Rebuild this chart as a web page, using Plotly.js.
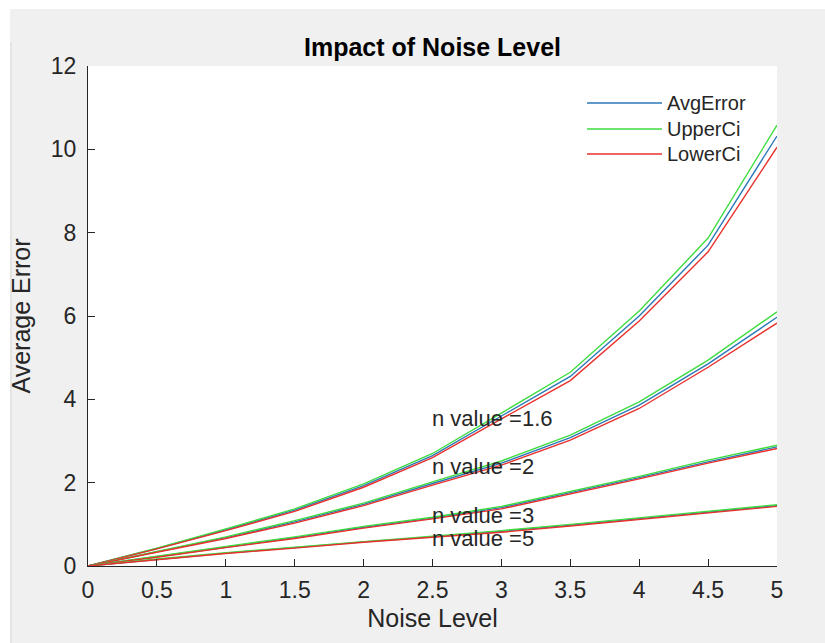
<!DOCTYPE html>
<html>
<head>
<meta charset="utf-8">
<script src="https://cdn.plot.ly/plotly-3.0.1.min.js"></script>
<style>
  html, body { margin: 0; padding: 0; background: #f0f0f0; }
  #chart { width: 825px; height: 643px; }
</style>
</head>
<body>
<div id="chart"></div>
<script>
// Noise levels swept in the experiment
const noiseLevel = [0, 0.5, 1, 1.5, 2, 2.5, 3, 3.5, 4, 4.5, 5];

// n = 1.6
const avg16   = [0, 0.42, 0.87, 1.34, 1.93, 2.65, 3.60, 4.55, 6.00, 7.70, 10.32];
const upper16 = [0, 0.43, 0.89, 1.37, 1.97, 2.70, 3.67, 4.65, 6.12, 7.87, 10.58];
const lower16 = [0, 0.41, 0.85, 1.31, 1.89, 2.60, 3.53, 4.45, 5.88, 7.54, 10.05];

// n = 2
const avg2   = [0, 0.34, 0.68, 1.06, 1.48, 1.98, 2.47, 3.08, 3.86, 4.85, 5.97];
const upper2 = [0, 0.35, 0.70, 1.09, 1.51, 2.02, 2.52, 3.14, 3.94, 4.94, 6.10];
const lower2 = [0, 0.33, 0.66, 1.03, 1.45, 1.94, 2.42, 3.02, 3.78, 4.77, 5.83];

// n = 3
const avg3   = [0, 0.22, 0.45, 0.68, 0.93, 1.15, 1.40, 1.76, 2.12, 2.50, 2.86];
const upper3 = [0, 0.23, 0.46, 0.70, 0.95, 1.17, 1.43, 1.79, 2.15, 2.54, 2.90];
const lower3 = [0, 0.21, 0.44, 0.66, 0.91, 1.13, 1.37, 1.73, 2.09, 2.47, 2.82];

// n = 5
const avg5   = [0, 0.16, 0.31, 0.44, 0.58, 0.70, 0.83, 0.98, 1.14, 1.30, 1.45];
const upper5 = [0, 0.17, 0.32, 0.45, 0.59, 0.71, 0.85, 1.00, 1.16, 1.32, 1.47];
const lower5 = [0, 0.15, 0.30, 0.43, 0.57, 0.69, 0.81, 0.96, 1.12, 1.28, 1.43];

// Labels placed next to each family of curves
const nLabels = ['n value =1.6', 'n value =2', 'n value =3', 'n value =5'];
const nLabelY = [3.55, 2.38, 1.22, 0.65];
const nLabelX = 2.5;

const seriesNames = ['AvgError', 'UpperCi', 'LowerCi'];

const COLORS = { avg: '#2b78b8', upper: '#3fdc3f', lower: '#e8302c' };
const INK = '#262626';
const FONT = 'Liberation Sans, Arial, Helvetica, sans-serif';

const groups = [
  [avg16, upper16, lower16],
  [avg2, upper2, lower2],
  [avg3, upper3, lower3],
  [avg5, upper5, lower5]
];

const traces = [];
groups.forEach(function (g) {
  const cols = [COLORS.avg, COLORS.upper, COLORS.lower];
  g.forEach(function (ys, k) {
    traces.push({
      x: noiseLevel,
      y: ys,
      type: 'scatter',
      mode: 'lines',
      name: seriesNames[k],
      showlegend: false,
      line: { color: cols[k], width: 1.4 },
      hoverinfo: 'x+y'
    });
  });
});

// Curve labels
const annotations = nLabels.map(function (t, i) {
  return {
    x: nLabelX, y: nLabelY[i], xref: 'x', yref: 'y',
    text: t, showarrow: false, xanchor: 'left', yanchor: 'middle',
    xshift: -3,
    font: { family: FONT, size: 22, color: INK }
  };
});

// Legend box in the upper right of the axes (paper coordinates)
const legColors = [COLORS.avg, COLORS.upper, COLORS.lower];
const legRowsPx = [103, 129, 154];
const pxToPaperX = function (px) { return (px - 88) / 689; };
const pxToPaperY = function (py) { return (566 - py) / 500; };
const shapes = [];
seriesNames.forEach(function (nm, i) {
  const yy = pxToPaperY(legRowsPx[i]);
  shapes.push({
    type: 'line', xref: 'paper', yref: 'paper',
    x0: pxToPaperX(587), x1: pxToPaperX(662), y0: yy, y1: yy,
    line: { color: legColors[i], width: 1.4 }
  });
  annotations.push({
    x: pxToPaperX(665), y: yy, xref: 'paper', yref: 'paper',
    text: nm, showarrow: false, xanchor: 'left', yanchor: 'middle',
    font: { family: FONT, size: 20, color: INK }
  });
});

// Figure frame strips along the top and left edges
shapes.push({
  type: 'rect', xref: 'paper', yref: 'paper', layer: 'below',
  x0: pxToPaperX(0), x1: pxToPaperX(825), y0: pxToPaperY(9), y1: pxToPaperY(0),
  fillcolor: '#ffffff', line: { width: 0 }
});
shapes.push({
  type: 'rect', xref: 'paper', yref: 'paper', layer: 'below',
  x0: pxToPaperX(0), x1: pxToPaperX(10), y0: pxToPaperY(643), y1: pxToPaperY(0),
  fillcolor: '#ffffff', line: { width: 0 }
});
shapes.push({
  type: 'line', xref: 'paper', yref: 'paper', layer: 'below',
  x0: pxToPaperX(11), x1: pxToPaperX(11), y0: pxToPaperY(643), y1: pxToPaperY(42),
  line: { color: '#d8d8d8', width: 1 }
});

const layout = {
  width: 825,
  height: 643,
  margin: { l: 88, r: 48, t: 66, b: 77, pad: 0 },
  paper_bgcolor: '#f0f0f0',
  plot_bgcolor: '#ffffff',
  showlegend: false,
  font: { family: FONT, color: INK },
  title: {
    text: '<b>Impact of Noise Level</b>',
    font: { family: FONT, size: 25, color: '#000000' },
    x: 0.5, xref: 'paper', xanchor: 'center',
    y: 1 - 47 / 643, yref: 'container', yanchor: 'middle'
  },
  xaxis: {
    range: [0, 5],
    tickvals: noiseLevel,
    ticktext: noiseLevel.map(String),
    ticks: 'inside', ticklen: 7, tickwidth: 1, tickcolor: INK,
    ticklabelstandoff: 3,
    showline: true, linecolor: INK, linewidth: 1, mirror: false,
    showgrid: false, zeroline: false,
    tickfont: { family: FONT, size: 23, color: INK },
    title: { text: 'Noise Level', font: { family: FONT, size: 25, color: INK }, standoff: 7 }
  },
  yaxis: {
    range: [0, 12],
    dtick: 2, tick0: 0,
    ticks: 'inside', ticklen: 7, tickwidth: 1, tickcolor: INK,
    ticklabelstandoff: 6,
    showline: true, linecolor: INK, linewidth: 1, mirror: false,
    showgrid: false, zeroline: false,
    tickfont: { family: FONT, size: 23, color: INK },
    title: { text: 'Average Error', font: { family: FONT, size: 25, color: INK }, standoff: 13 }
  },
  annotations: annotations,
  shapes: shapes
};

Plotly.newPlot('chart', traces, layout, { staticPlot: true, displayModeBar: false });
</script>
</body>
</html>
